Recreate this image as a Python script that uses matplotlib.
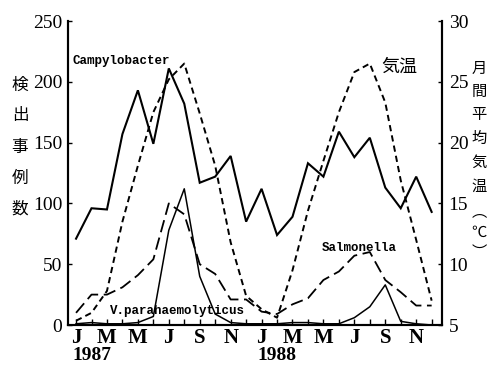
import numpy as np
import matplotlib
matplotlib.use("Agg")
import matplotlib.pyplot as plt
from matplotlib import transforms

# ---------------- data ----------------
months = np.arange(24)  # Jan 1987 .. Dec 1988
month_labels = ['J', '', 'M', '', 'M', '', 'J', '', 'S', '', 'N', ''] * 2
years = ['1987', '1988']

campylobacter = [71, 96, 95, 157, 193, 149, 211, 182, 117, 122, 139, 85,
                 112, 74, 89, 133, 122, 159, 138, 154, 113, 96, 122, 93]
salmonella = [10, 25, 25, 31, 41, 54, 100, 91, 50, 42, 21, 21,
              11, 9, 17, 22, 37, 44, 57, 60, 37, 27, 16, 16]
vibrio = [1, 2, 1, 1, 2, 7, 78, 112, 40, 9, 2, 1,
          1, 1, 2, 2, 1, 1, 6, 15, 33, 3, 1, 0]
temperature = [5.35, 6.0, 7.8, 13.5, 18.1, 22.5, 25.2, 26.5, 22.4, 18.1, 11.8, 7.4,
               6.3, 5.6, 9.5, 14.4, 18.5, 22.5, 25.8, 26.5, 23.3, 16.9, 12.0, 7.0]

left_ticks = [0, 50, 100, 150, 200, 250]
right_ticks = [5, 10, 15, 20, 25, 30]

plt.rcParams['lines.scale_dashes'] = False
serif = 'Liberation Serif'
cjk = ['Noto Sans CJK JP', 'DejaVu Sans']

W, H = 494, 369
fig = plt.figure(figsize=(W / 100, H / 100), dpi=100)
ax = fig.add_axes([68 / W, 1 - 325 / H, (441.7 - 68) / W, (325 - 21) / H])
ax2 = ax.twinx()

# lines
ax.plot(months, campylobacter, color='black', lw=1.5, solid_joinstyle='miter')
ax.plot(months, salmonella, color='black', lw=1.3, dashes=(9, 4))
ax.plot(months, vibrio, color='black', lw=1.1)
ax2.plot(months, temperature, color='black', lw=1.4, dashes=(4.5, 3))

ax.set_xlim(-0.52, 23.65)
ax.set_ylim(0, 250)
ax2.set_ylim(5, 30)

for a in (ax, ax2):
    a.spines['top'].set_visible(False)
    a.spines['left'].set_linewidth(1.5)
    a.spines['right'].set_linewidth(1.5)
    a.spines['bottom'].set_linewidth(1.5)

ax.set_xticks(months)
ax.set_xticklabels(month_labels, fontfamily=serif, fontweight='bold', fontsize=15)
ax.set_yticks(left_ticks)
ax.set_yticklabels([str(t) for t in left_ticks], fontfamily=serif, fontsize=14)
ax.tick_params(axis='x', direction='in', length=4, width=1, pad=2)
ax.tick_params(axis='y', direction='in', length=3, width=1, pad=4)
ax2.set_yticks(right_ticks)
ax2.set_yticklabels([str(t) for t in right_ticks], fontfamily=serif, fontsize=14)
ax2.tick_params(axis='y', direction='in', length=3, width=1, pad=5)

# year labels under the first J of each year
trans = transforms.blended_transform_factory(ax.transData, ax.transAxes)
for i, yr in enumerate(years):
    ax.text(months[i * 12] - 0.25, -0.1, yr, transform=trans, ha='left', va='center',
            fontfamily=serif, fontweight='bold', fontsize=14)

# series labels
ax.text(-0.26, 217, 'Campylobacter', fontfamily='Liberation Mono', fontweight='bold',
        fontsize=9, ha='left', va='center')
ax.text(15.9, 63.5, 'Salmonella', fontfamily='Liberation Mono', fontweight='bold',
        fontsize=9, ha='left', va='center')
ax.text(2.2, 11.5, 'V.parahaemolyticus', fontfamily='Liberation Mono', fontweight='bold',
        fontsize=9, ha='left', va='center')
ax.text(19.75, 212, '気温', fontfamily=cjk, fontsize=13, ha='left', va='center')

# vertical axis titles, one character per line
left_title = '検出事例数'
for k, ch in enumerate(left_title):
    fig.text(20 / W, 1 - (85 + 31 * k) / H, ch, fontfamily=cjk, fontsize=12,
             ha='center', va='center')
right_title = ['月', '間', '平', '均', '気', '温', '︵', '℃', '︶']
right_y = [68, 91, 114, 138, 162, 186, 212, 232, 252]
for ch, yy in zip(right_title, right_y):
    fig.text(479 / W, 1 - yy / H, ch, fontfamily=cjk, fontsize=11,
             ha='center', va='center')

fig.savefig('out.png', dpi=100)
